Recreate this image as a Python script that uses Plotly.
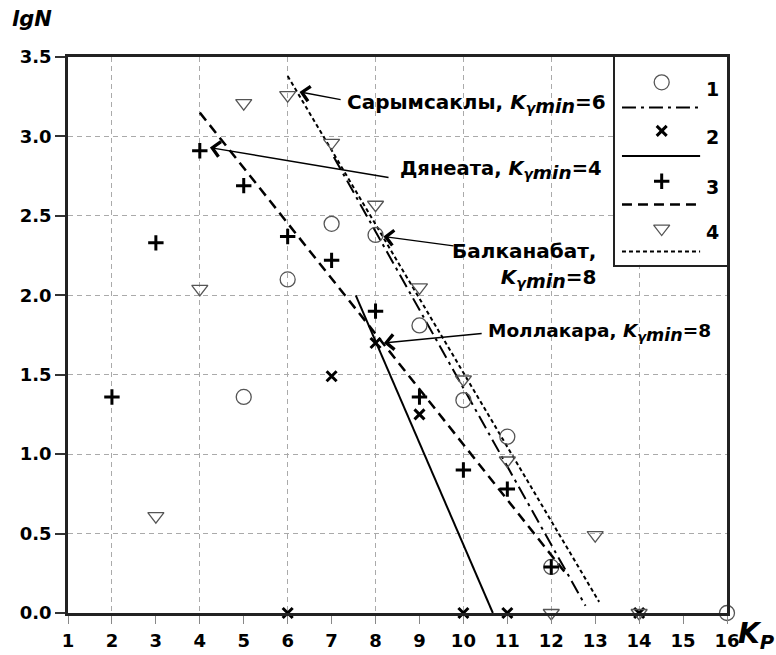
import plotly.graph_objects as go

# Energy class K_P and log of event count lgN for four seismogenic zones
K1 = [5, 6, 7, 8, 9, 10, 11, 12, 16]
LG1 = [1.36, 2.10, 2.45, 2.38, 1.81, 1.34, 1.11, 0.29, 0.0]

K2 = [6, 7, 8, 9, 10, 11, 14]
LG2 = [0.0, 1.49, 1.70, 1.25, 0.0, 0.0, 0.0]

K3 = [2, 3, 4, 5, 6, 7, 8, 9, 10, 11, 12]
LG3 = [1.36, 2.33, 2.91, 2.69, 2.37, 2.22, 1.90, 1.36, 0.90, 0.78, 0.29]

K4 = [3, 4, 5, 6, 7, 8, 9, 10, 11, 12, 13, 14]
LG4 = [0.61, 2.04, 3.21, 3.26, 2.96, 2.57, 2.05, 1.47, 0.96, 0.0, 0.49, 0.0]

# Recurrence-graph fits (end points of each straight line)
FIT1_K, FIT1_LG = [7.05, 12.78], [2.87, 0.045]
FIT2_K, FIT2_LG = [7.55, 10.67], [2.0, 0.0]
FIT3_K, FIT3_LG = [4.0, 12.3], [3.15, 0.26]
FIT4_K, FIT4_LG = [6.0, 13.09], [3.38, 0.07]

SERIES_NAMES = ["1", "2", "3", "4"]
X_TICKS = list(range(1, 17))
X_GRID = [2, 4, 6, 8, 10, 12, 14]
Y_TICKS = [0.0, 0.5, 1.0, 1.5, 2.0, 2.5, 3.0, 3.5]

# Callouts: (text, arrow head K, lgN, arrow tail K, lgN, text K, lgN, anchor, font size)
KG = '<i>K</i><sub><i>γ<span style="font-size:{s}px">min</span></i></sub>'
CALLOUTS = [
    ("Сарымсаклы, " + KG.format(s=19) + "=6", 6.27, 3.28, 7.24, 3.23, 7.31, 3.21, "left", 20),
    ("Дянеата, " + KG.format(s=18.5) + "=4", 4.23, 2.93, 8.33, 2.74, 8.51, 2.79, "left", 19.5),
    ("Балканабат,<br>" + KG.format(s=19) + "=8", 8.18, 2.37, 9.81, 2.31, 13.06, 2.19, "right", 20),
    ("Моллакара, " + KG.format(s=17.5) + "=8", 8.19, 1.70, 10.45, 1.76, 10.51, 1.764, "left", 18.5),
]

FONT = "DejaVu Sans"
GRAY = "#555555"

MARKERS = [
    dict(symbol="circle-open", size=15, color=GRAY, line=dict(width=1.3, color=GRAY)),
    dict(symbol="x-thin-open", size=10, color="black", line=dict(width=3, color="black")),
    dict(symbol="cross-thin-open", size=11, color="black", line=dict(width=3, color="black")),
    dict(symbol="triangle-down-open", size=14, color=GRAY, line=dict(width=1.3, color=GRAY)),
]
LINES = [
    dict(color="black", width=2, dash="14px,5px,3px,5px"),
    dict(color="black", width=2),
    dict(color="black", width=2.5, dash="10px,6px"),
    dict(color="black", width=2, dash="4px,3px"),
]

fig = go.Figure()

points = [(K1, LG1), (K2, LG2), (K3, LG3), (K4, LG4)]
fits = [(FIT1_K, FIT1_LG), (FIT2_K, FIT2_LG), (FIT3_K, FIT3_LG), (FIT4_K, FIT4_LG)]

for (kx, ky), ln in zip(fits, LINES):
    fig.add_trace(go.Scatter(x=kx, y=ky, mode="lines", line=ln,
                             showlegend=False, hoverinfo="skip", cliponaxis=False))
for (kx, ky), mk in zip(points, MARKERS):
    fig.add_trace(go.Scatter(x=kx, y=ky, mode="markers", marker=mk,
                             showlegend=False, cliponaxis=False))

# Legend panel drawn as its own small subplot in the upper-right corner
LEG_X = [0.830, 1.0]
LEG_Y = [0.6265, 1.0]
fig.add_trace(go.Scatter(x=[0, 1, 1, 0, 0], y=[0, 0, 1, 1, 0], mode="lines",
                         fill="toself", fillcolor="white", line=dict(width=0),
                         xaxis="x2", yaxis="y2", showlegend=False, hoverinfo="skip"))
ROW_MARK_Y = [0.878, 0.644, 0.402, 0.174]
ROW_LABEL_Y = [0.845, 0.614, 0.372, 0.155]
ROW_LINE_Y = [0.757, 0.523, 0.290, 0.064]
annotations = []
for i in range(4):
    fig.add_trace(go.Scatter(x=[0.0625, 0.76], y=[ROW_LINE_Y[i]] * 2, mode="lines",
                             line=LINES[i], xaxis="x2", yaxis="y2",
                             showlegend=False, hoverinfo="skip"))
    fig.add_trace(go.Scatter(x=[0.417], y=[ROW_MARK_Y[i]], mode="markers",
                             marker=MARKERS[i], xaxis="x2", yaxis="y2",
                             showlegend=False, hoverinfo="skip"))
    annotations.append(dict(x=0.872, y=ROW_LABEL_Y[i], xref="x2", yref="y2",
                            text=SERIES_NAMES[i], showarrow=False,
                            font=dict(family=FONT, size=19, color="black", weight="bold")))

for text, hx, hy, tx, ty, lx, ly, anchor, fsize in CALLOUTS:
    annotations.append(dict(x=hx, y=hy, ax=tx, ay=ty, xref="x", yref="y",
                            axref="x", ayref="y", text="", showarrow=True,
                            arrowhead=4, arrowsize=2.1, arrowwidth=1.4,
                            arrowcolor="black"))
    annotations.append(dict(x=lx, y=ly, xref="x", yref="y", text=text,
                            xanchor=anchor, yanchor="middle", align=anchor,
                            showarrow=False,
                            font=dict(family=FONT, size=fsize, color="black", weight="bold")))

# Axis titles
annotations.append(dict(x=-0.088, y=1.069, xref="paper", yref="paper",
                        text="<i>lgN</i>", showarrow=False, xanchor="left",
                        yanchor="middle",
                        font=dict(family=FONT, size=21, color="black", weight="bold")))
annotations.append(dict(x=1.013, y=-0.04, xref="paper", yref="paper",
                        text="<i>K</i><sub><i>P</i></sub>", showarrow=False,
                        xanchor="left", yanchor="middle",
                        font=dict(family=FONT, size=28, color="black", weight="bold")))

tick_font = dict(family=FONT, size=18, color="black", weight="bold")

fig.update_layout(
    width=776, height=655, autosize=False,
    margin=dict(l=68, r=49, t=57, b=42),
    paper_bgcolor="white", plot_bgcolor="white",
    showlegend=False,
    annotations=annotations,
    xaxis=dict(range=[1, 16], tickvals=X_TICKS, ticks="outside", ticklen=8,
               tickwidth=1, tickcolor="#888888", tickfont=tick_font,
               ticklabelstandoff=2, automargin=False,
               showgrid=False, zeroline=False,
               showline=True, linewidth=2.5, linecolor="#222222", mirror=True,
               minor=dict(tickvals=X_GRID, showgrid=True, gridcolor="#aaaaaa",
                          gridwidth=1, griddash="5px,4px", ticks="")),
    yaxis=dict(range=[0, 3.5], tickvals=Y_TICKS, tickformat=".1f",
               ticks="outside", ticklen=10, tickwidth=1.5, tickcolor="#333333",
               tickfont=tick_font, automargin=False,
               showgrid=True, gridcolor="#aaaaaa", gridwidth=1, griddash="5px,4px",
               zeroline=False,
               showline=True, linewidth=2.5, linecolor="#222222", mirror=True),
    xaxis2=dict(domain=LEG_X, range=[0, 1], anchor="y2", showgrid=False,
                zeroline=False, showticklabels=False, ticks="",
                showline=True, linewidth=2, linecolor="#222222", mirror=True),
    yaxis2=dict(domain=LEG_Y, range=[0, 1], anchor="x2", showgrid=False,
                zeroline=False, showticklabels=False, ticks="",
                showline=True, linewidth=2, linecolor="#222222", mirror=True),
)

fig.write_html("out.html")
